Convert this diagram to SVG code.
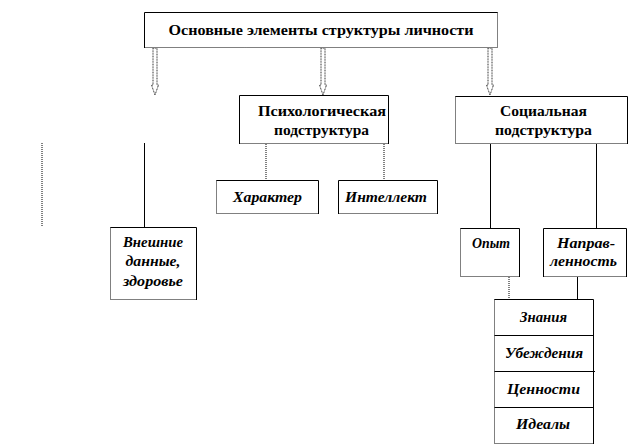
<svg xmlns="http://www.w3.org/2000/svg" width="634" height="447" viewBox="0 0 634 447">
<style>
.bg{fill:#fff;stroke:none}
.s{fill:none;stroke:#000;stroke-width:1}
.d{fill:none;stroke:#000;stroke-width:1;stroke-dasharray:1 1}
.arr{fill:#fff;stroke:#000;stroke-width:0.8;stroke-dasharray:1 0.6}
</style>
<rect width="634" height="447" fill="#fff"/>
<g id="connectors">
<polygon class="arr" points="153,48 153,85 151.5,85 155,95 158.5,85 157,85 157,48"/>
<polygon class="arr" points="321,48 321,85 319.5,85 323,95 326.5,85 325,85 325,48"/>
<polygon class="arr" points="488,48 488,85 486.5,85 490,95 493.5,85 492,85 492,48"/>
<line class="d" x1="42" y1="143" x2="42" y2="227"/>
<line class="s" x1="144.5" y1="143" x2="144.5" y2="227"/>
<line class="d" x1="266" y1="144" x2="266" y2="180"/>
<line class="d" x1="384" y1="144" x2="384" y2="180"/>
<line class="s" x1="490.5" y1="144" x2="490.5" y2="228"/>
<line class="s" x1="596.5" y1="144" x2="596.5" y2="228"/>
<line class="d" x1="509" y1="277" x2="509" y2="299"/>
<line class="s" x1="577.5" y1="277" x2="577.5" y2="299"/>
</g>
<g id="root">
<rect class="bg" x="144" y="12" width="354" height="36"/>
<path class="s" d="M144.5,48 V12.5 H497.5"/>
<path class="d" d="M497.5,12.5 V47.5 H144.5"/>
<text font-family="Liberation Serif" font-weight="bold" font-size="15" text-anchor="middle" x="321" y="35" textLength="305" lengthAdjust="spacingAndGlyphs">Основные элементы структуры личности</text>
</g>
<g id="psych" font-family="Liberation Serif" font-weight="bold" font-size="15" text-anchor="middle">
<rect class="bg" x="239" y="95" width="150" height="49"/>
<path class="s" d="M239.5,144 V95.5 H388.5 V144"/>
<path class="d" d="M239.5,143.5 H388.5"/>
<text x="322" y="116" textLength="128" lengthAdjust="spacingAndGlyphs">Психологическая</text>
<text x="321.5" y="135" textLength="95" lengthAdjust="spacingAndGlyphs">подструктура</text>
</g>
<g id="social" font-family="Liberation Serif" font-weight="bold" font-size="15" text-anchor="middle">
<rect class="bg" x="455" y="96" width="173" height="48"/>
<path class="s" d="M455.5,96.5 H627.5 V144"/>
<path class="d" d="M455.5,96.5 V143.5 H627.5"/>
<text x="543.5" y="116" textLength="87" lengthAdjust="spacingAndGlyphs">Социальная</text>
<text x="543.5" y="135" textLength="97" lengthAdjust="spacingAndGlyphs">подструктура</text>
</g>
<g id="character" font-family="Liberation Serif" font-weight="bold" font-style="italic" font-size="14" text-anchor="middle">
<rect class="bg" x="216" y="180" width="103" height="34"/>
<path class="s" d="M216.5,180.5 H318.5 V214"/>
<path class="d" d="M216.5,180.5 V213.5 H318.5"/>
<text x="267.5" y="201.5" textLength="69" lengthAdjust="spacingAndGlyphs">Характер</text>
</g>
<g id="intellect" font-family="Liberation Serif" font-weight="bold" font-style="italic" font-size="14" text-anchor="middle">
<rect class="bg" x="338" y="180" width="100" height="34"/>
<path class="s" d="M338.5,214 V180.5 H437.5 V214"/>
<path class="d" d="M338.5,213.5 H437.5"/>
<text x="386" y="201.5" textLength="82" lengthAdjust="spacingAndGlyphs">Интеллект</text>
</g>
<g id="external" font-family="Liberation Serif" font-weight="bold" font-style="italic" font-size="14" text-anchor="middle">
<rect class="bg" x="110" y="227" width="87" height="73"/>
<path class="s" d="M110.5,227.5 H196.5 V300"/>
<path class="d" d="M110.5,227.5 V299.5 H196.5"/>
<text x="153" y="247" textLength="60" lengthAdjust="spacingAndGlyphs">Внешние</text>
<text x="153" y="266" textLength="55" lengthAdjust="spacingAndGlyphs">данные,</text>
<text x="153" y="286" textLength="60" lengthAdjust="spacingAndGlyphs">здоровье</text>
</g>
<g id="experience" font-family="Liberation Serif" font-weight="bold" font-style="italic" font-size="14" text-anchor="middle">
<rect class="bg" x="460" y="228" width="60" height="49"/>
<path class="s" d="M460.5,228.5 H519.5 V277"/>
<path class="d" d="M460.5,228.5 V276.5 H519.5"/>
<text x="491" y="248" textLength="38" lengthAdjust="spacingAndGlyphs">Опыт</text>
</g>
<g id="direction" font-family="Liberation Serif" font-weight="bold" font-style="italic" font-size="14" text-anchor="middle">
<rect class="bg" x="543" y="228" width="84" height="49"/>
<path class="s" d="M543.5,277 V228.5 H626.5 V277"/>
<path class="d" d="M543.5,276.5 H626.5"/>
<text x="586" y="248" textLength="58" lengthAdjust="spacingAndGlyphs">Направ-</text>
<text x="583.5" y="266" textLength="67" lengthAdjust="spacingAndGlyphs">ленность</text>
</g>
<g id="values-stack" font-family="Liberation Serif" font-weight="bold" font-style="italic" font-size="14" text-anchor="middle">
<rect class="bg" x="494" y="299" width="99" height="145"/>
<path class="s" d="M494.5,299.5 H593.5 V444"/>
<path class="d" d="M494.5,299.5 V443.5 H593.5"/>
<path class="s" d="M494.5,335.5 H593.5 M494.5,371.5 H595 M494.5,407.5 H593.5"/>
<text x="543.5" y="322" textLength="47" lengthAdjust="spacingAndGlyphs">Знания</text>
<text x="544" y="358" textLength="78" lengthAdjust="spacingAndGlyphs">Убеждения</text>
<text x="543.5" y="394" textLength="73" lengthAdjust="spacingAndGlyphs">Ценности</text>
<text x="543" y="429" textLength="54" lengthAdjust="spacingAndGlyphs">Идеалы</text>
</g>
</svg>
